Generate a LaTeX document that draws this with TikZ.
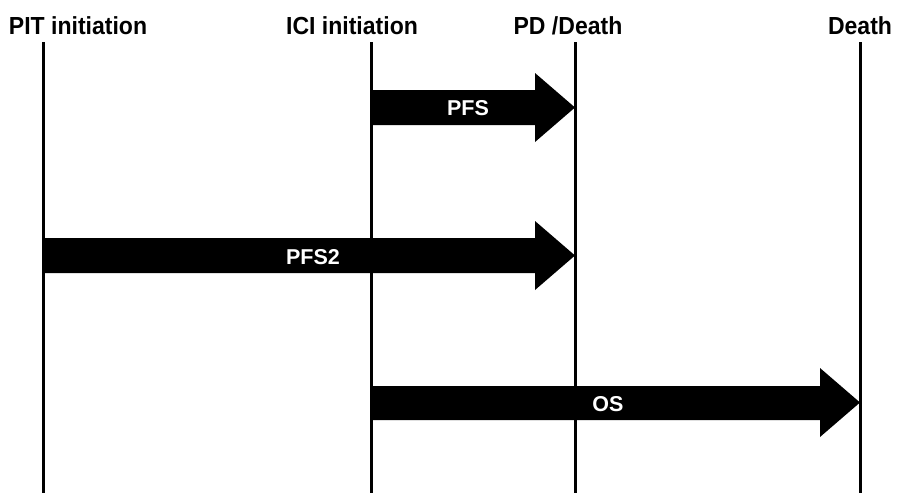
\documentclass[tikz,border=0pt]{standalone}
\usepackage{fontspec}
\setmainfont{Liberation Sans}
\begin{document}
\begin{tikzpicture}[x=1pt,y=-1pt,
  vline/.style={line width=3pt,black},
  toplabel/.style={font=\bfseries\fontsize{23.5}{26}\selectfont,inner sep=0pt,anchor=base},
  arrowlabel/.style={font=\bfseries\fontsize{21.5}{24}\selectfont,text=white,inner sep=0pt},
  bigarrow/.style={fill=black,draw=none}]
\useasboundingbox (0,0) rectangle (907,493);
% top labels
\node[toplabel] (tPIT) at (78,34) {\scalebox{0.98}[1.05]{PIT initiation}};
\node[toplabel] (tICI) at (352,34) {\scalebox{0.98}[1.05]{ICI initiation}};
\node[toplabel] (tPD) at (568,34) {\scalebox{0.98}[1.05]{PD /Death}};
\node[toplabel] (tD) at (860,34) {\scalebox{0.98}[1.05]{Death}};
% vertical lines
\coordinate (a1) at (43,42); \coordinate (a2) at (43,493);
\coordinate (b1) at (371,42); \coordinate (b2) at (371,493);
\coordinate (c1) at (575,42); \coordinate (c2) at (575,493);
\coordinate (d1) at (860,42); \coordinate (d2) at (860,493);
\draw[vline] (a1) -- (a2);
\draw[vline] (b1) -- (b2);
\draw[vline] (c1) -- (c2);
\draw[vline] (d1) -- (d2);
% PFS arrow
\fill[bigarrow] (371,90) -- (535,90) -- (535,73) -- (575,107.5) -- (535,142) -- (535,125) -- (371,125) -- cycle;
\node[arrowlabel] (lPFS) at (468,108) {PFS};
% PFS2 arrow
\fill[bigarrow] (43,238) -- (535,238) -- (535,221) -- (575,255.5) -- (535,290) -- (535,273) -- (43,273) -- cycle;
\node[arrowlabel] (lPFS2) at (313,257) {PFS2};
% OS arrow
\fill[bigarrow] (371,386) -- (820,386) -- (820,368) -- (860,402.5) -- (820,437) -- (820,420) -- (371,420) -- cycle;
\node[arrowlabel] (lOS) at (608,404.5) {OS};
\end{tikzpicture}
\end{document}
